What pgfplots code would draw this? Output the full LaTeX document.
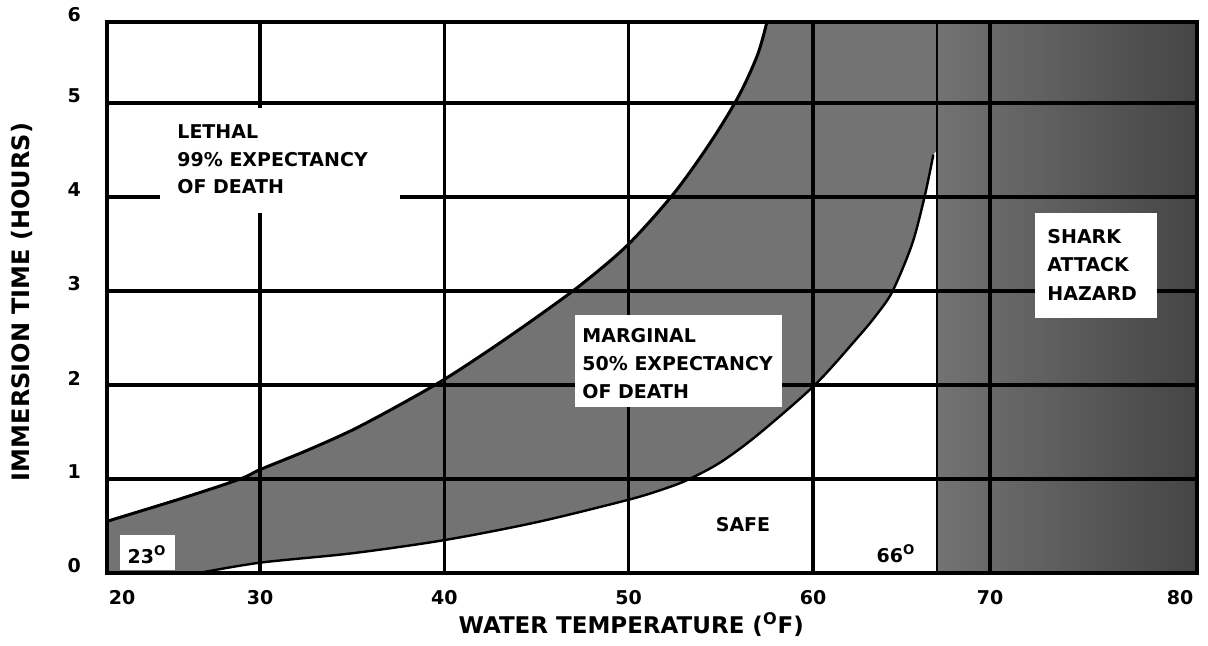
\documentclass[border=0pt]{standalone}
\usepackage{fontspec}
\setmainfont{DejaVu Sans}
\usepackage{pgfplots}
\pgfplotsset{compat=1.18}
\begin{document}
\begin{tikzpicture}
\path[use as bounding box] (0,0) rectangle (604pt,322.5pt);
\begin{axis}[
  at={(53.5pt,36pt)}, anchor=south west,
  scale only axis, width=545pt, height=275.5pt,
  x coord trafo/.code={\pgfmathparse{(#1<30) ? (107+(#1-20)*15.3) : ((#1<60) ? (260+(#1-30)*18.4333) : ((#1<70) ? (813+(#1-60)*17.7) : (990+(#1-70)*20.7)))}},
  y coord trafo/.code={\pgfmathparse{(#1<5) ? (#1*94) : (470+(#1-5)*81)}},
  xmin=20, xmax=80, ymin=0, ymax=6,
  xtick={20,30,40,50,60,70,80},
  xticklabels={\hspace*{15pt}20,30,40,50,60,70,80\hspace*{17pt}},
  ytick={0,1,2,3,4,5,6},
  yticklabels={0,1,2,3,4,5,6},
  major tick length=0pt,
  grid=major,
  major grid style={black, line width=1.7pt},
  axis line style={black, line width=2.2pt},
  axis on top,
  tick label style={font=\fontsize{9.5}{10}\selectfont\bfseries},
  xticklabel style={yshift=-7.5pt, inner sep=1pt},
  yticklabel style={xshift=-9.5pt, yshift=3.5pt},
  xlabel={WATER TEMPERATURE (\textsuperscript{O}F)},
  ylabel={IMMERSION TIME (HOURS)},
  xlabel style={at={(axis description cs:0.481,-0.093)}, anchor=center, inner sep=1pt, font=\fontsize{11.5}{13}\selectfont\bfseries},
  ylabel style={at={(axis description cs:-0.078,0.492)}, anchor=center, font=\fontsize{12}{14}\selectfont\bfseries},
]
% marginal band (between 99% and 50% curves)
\addplot[draw=none, fill=black!55] coordinates {
 (20,0) (20,0.55) (25,0.8) (28.7,1.0) (30,1.1) (32.5,1.3) (35,1.52) (37.5,1.78) (40,2.06) (42.5,2.38) (45,2.72) (47.5,3.08) (50,3.5) (52.5,4.05) (54.5,4.6) (56,5.1) (57,5.6) (57.5,6.0)
 (67,6) (67,4.5) (66.8,4.45) (66.3,4.0) (65.6,3.5) (64.5,3.0) (63.6,2.75) (62.5,2.5) (60.1,2.0) (57,1.47) (55,1.18) (53.3,1.0) (52,0.9) (50,0.78) (45,0.54) (40,0.35) (35,0.21) (30,0.11) (26,0)
} -- cycle;
% shark attack hazard region
\addplot[draw=black, line width=1pt, left color=black!55, right color=black!73] coordinates {(67,0) (80,0) (80,6) (67,6)} -- cycle;
% 99% curve
\addplot[black, line width=1.5pt, smooth] coordinates {
 (20,0.55) (25,0.8) (28.7,1.0) (30,1.1) (32.5,1.3) (35,1.52) (37.5,1.78) (40,2.06) (42.5,2.38) (45,2.72) (47.5,3.08) (50,3.5) (52.5,4.05) (54.5,4.6) (56,5.1) (57,5.6) (57.5,6.0)};
% 50% curve
\addplot[black, line width=1.2pt, smooth] coordinates {
 (26,0) (30,0.11) (35,0.21) (40,0.35) (45,0.54) (50,0.78) (52,0.9) (53.3,1.0) (55,1.18) (57,1.47) (60.1,2.0) (62.5,2.5) (63.6,2.75) (64.5,3.0) (65.6,3.5) (66.3,4.0) (66.8,4.45)};
\end{axis}
\begin{scope}[x=0.5pt,y=-0.5pt,yshift=322.5pt, every node/.style={font=\fontsize{9.5}{11}\selectfont\bfseries, inner sep=0pt, anchor=west}]
\fill[white] (160,108) rectangle (400,213);
\node at (177,132) {LETHAL};
\node at (177,160) {99\% EXPECTANCY};
\node at (177,187) {OF DEATH};
\fill[white] (575,315) rectangle (782,407);
\node at (582,336) {MARGINAL};
\node at (582,364) {50\% EXPECTANCY};
\node at (582,392) {OF DEATH};
\fill[white] (1035,213) rectangle (1157,318);
\node at (1047,237) {SHARK};
\node at (1047,265) {ATTACK};
\node at (1047,294) {HAZARD};
\fill[white] (120,535) rectangle (175,570);
\node[anchor=center] at (147,555) {23\textsuperscript{O}};
\node[anchor=center] at (743,525) {SAFE};
\node[anchor=center] at (896,554) {66\textsuperscript{O}};
\end{scope}
\end{tikzpicture}
\end{document}
